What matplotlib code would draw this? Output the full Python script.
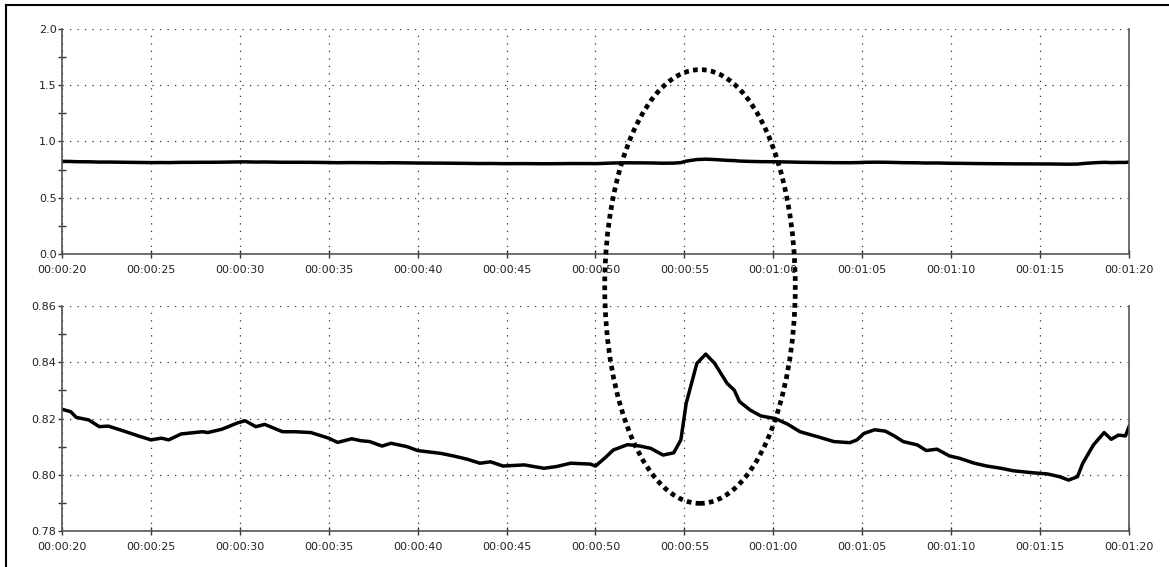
import matplotlib
matplotlib.use("Agg")
import matplotlib.pyplot as plt
from matplotlib.patches import Ellipse
from matplotlib.lines import Line2D
from matplotlib.ticker import MultipleLocator, FuncFormatter

# time in seconds and signal value
seconds = [20.0, 20.5, 20.8, 21.5, 22.1, 22.6, 23.4, 24.3, 25.0, 25.6, 26.0, 26.7,
           27.9, 28.2, 29.0, 29.9, 30.3, 30.9, 31.4, 32.4, 33.1, 34.0, 35.0, 35.5,
           36.3, 36.8, 37.3, 38.0, 38.5, 39.4, 40.0, 41.3, 42.0, 42.8, 43.5, 44.1,
           44.8, 46.0, 47.1, 47.8, 48.6, 49.7, 50.0, 50.5, 51.0, 51.8, 52.5, 53.1,
           53.8, 54.4, 54.8, 55.1, 55.7, 56.2, 56.7, 57.4, 57.8, 58.1, 58.7, 59.3,
           60.1, 60.8, 61.5, 62.5, 63.4, 64.3, 64.7, 65.1, 65.7, 66.3, 66.8, 67.3,
           68.1, 68.6, 69.2, 69.9, 70.5, 71.3, 72.0, 72.8, 73.5, 74.6, 75.4, 76.1,
           76.6, 77.1, 77.4, 78.0, 78.6, 79.0, 79.4, 79.8, 80.0]
values = [0.8233, 0.8224, 0.8204, 0.8195, 0.8171, 0.8173, 0.8157, 0.8138, 0.8124, 0.8130, 0.8124, 0.8145,
          0.8153, 0.8150, 0.8162, 0.8185, 0.8192, 0.8171, 0.8179, 0.8153, 0.8153, 0.8150, 0.8130, 0.8115,
          0.8128, 0.8121, 0.8118, 0.8102, 0.8112, 0.8100, 0.8086, 0.8076, 0.8067, 0.8055, 0.8041, 0.8046,
          0.8031, 0.8035, 0.8023, 0.8029, 0.8041, 0.8038, 0.8031, 0.8058, 0.8088, 0.8107, 0.8102, 0.8094,
          0.8070, 0.8078, 0.8124, 0.8254, 0.8396, 0.8429, 0.8396, 0.8325, 0.8301, 0.8260, 0.8230, 0.8209,
          0.8200, 0.8180, 0.8153, 0.8135, 0.8118, 0.8114, 0.8124, 0.8147, 0.8160, 0.8155, 0.8138, 0.8118,
          0.8106, 0.8086, 0.8091, 0.8067, 0.8058, 0.8041, 0.8031, 0.8023, 0.8014, 0.8007, 0.8003, 0.7993,
          0.7981, 0.7993, 0.8041, 0.8106, 0.8150, 0.8126, 0.8141, 0.8138, 0.8171]

top_ylim = (0.0, 2.0)
bottom_ylim = (0.78, 0.86)


def hms(x, pos):
    s = int(round(x))
    return "%02d:%02d:%02d" % (s // 3600, (s // 60) % 60, s % 60)


def style_axes(ax, ylim, ystep, yminor, yfmt):
    ax.plot(seconds, values, color="black", lw=2.5, solid_joinstyle="round")
    ax.set_xlim(20, 80)
    ax.set_ylim(*ylim)
    ax.xaxis.set_major_locator(MultipleLocator(5))
    ax.xaxis.set_major_formatter(FuncFormatter(hms))
    ax.yaxis.set_major_locator(MultipleLocator(ystep))
    ax.yaxis.set_minor_locator(MultipleLocator(yminor))
    ax.yaxis.set_major_formatter(FuncFormatter(lambda v, p: yfmt % v))
    ax.grid(True, which="major", color="#333333", lw=0.9, linestyle=(0, (1, 5)))
    ax.spines["top"].set_visible(False)
    for side in ("left", "bottom", "right"):
        ax.spines[side].set_color("#555555")
        ax.spines[side].set_linewidth(1.2)
    ax.tick_params(axis="x", which="major", direction="inout", length=6, width=1,
                   color="#333333", labelsize=8, labelcolor="#222222", pad=5)
    ax.tick_params(axis="y", which="major", direction="out", length=3, width=1,
                   color="#333333", labelsize=8, labelcolor="#222222", pad=1)
    ax.tick_params(axis="y", which="minor", direction="inout", length=6, width=1,
                   color="#333333")
    ax.set_facecolor("white")


fig = plt.figure(figsize=(11.69, 5.67), dpi=100)

ax_top = fig.add_axes([0.0530, 0.5520, 0.9128, 0.3969])
style_axes(ax_top, top_ylim, 0.5, 0.25, "%.1f")

ax_bot = fig.add_axes([0.0530, 0.0635, 0.9128, 0.3968])
style_axes(ax_bot, bottom_ylim, 0.02, 0.01, "%.2f")

# dotted ellipse highlighting the event, spanning both panels
ell = Ellipse((0.5988, 0.4947), 0.163, 0.765, transform=fig.transFigure,
              fill=False, edgecolor="black", lw=3.4, linestyle=(0, (1, 0.9)),
              zorder=10)
ell.set_capstyle("butt")
fig.patches.append(ell)

# frame around the picture (left and top edges visible)
fig.add_artist(Line2D([6 / 1169, 6 / 1169], [0, 1 - 5 / 567], color="black", lw=1.5,
                      transform=fig.transFigure))
fig.add_artist(Line2D([6 / 1169, 1], [1 - 5 / 567, 1 - 5 / 567], color="black", lw=1.5,
                      transform=fig.transFigure))

fig.savefig("out.png", dpi=100)
